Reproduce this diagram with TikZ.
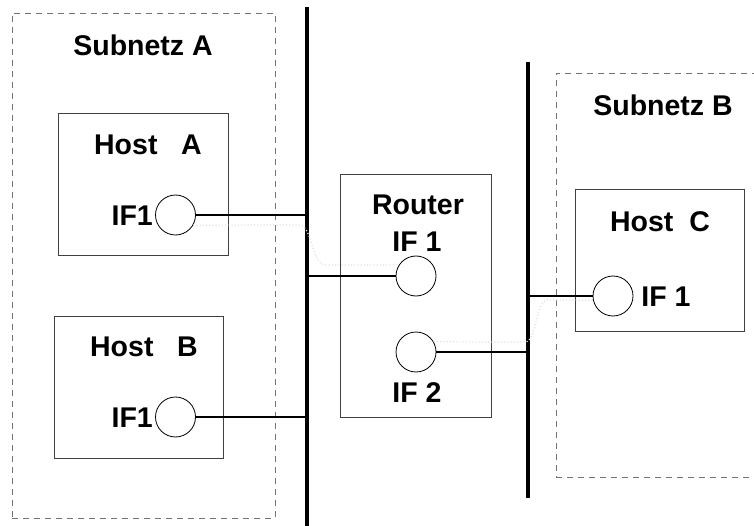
\documentclass[tikz,border=0pt]{standalone}
\usepackage{fontspec}
\setmainfont{Liberation Sans}
\begin{document}
\begin{tikzpicture}[x=1pt,y=-1pt,
  lbl/.style={font=\fontsize{28.5}{32}\selectfont\bfseries, inner sep=0pt},
  hostbox/.style={draw=black!75, line width=0.9pt, inner sep=0pt},
  subnet/.style={draw=black!55, line width=0.9pt, dash pattern=on 6pt off 5pt, inner sep=0pt},
  ifc/.style={circle, draw, line width=0.8pt, minimum size=40pt, inner sep=0pt},
  bus/.style={line width=3.2pt},
  conn/.style={line width=2.7pt},
  trace/.style={draw=black!12, line width=1.2pt, dotted}]
\useasboundingbox (0,0) rectangle (754,526);
\clip (0,0) rectangle (754,526);
% subnets
\node[subnet, minimum width=263pt, minimum height=505pt] (sa) at (143.5,265.5) {};
\node[subnet, minimum width=240pt, minimum height=404pt, anchor=north west] (sb) at (556,73) {};
\node[lbl] (sal) at (143,45) {Subnetz A};
\node[lbl] (sbl) at (663,105) {Subnetz B};
% buses
\coordinate (b1t) at (307,7);
\coordinate (b1b) at (307,530);
\coordinate (b2t) at (528,62);
\coordinate (b2b) at (528,498);
\draw[bus] (b1t) -- (b1b);
\draw[bus] (b2t) -- (b2b);
% hosts
\node[hostbox, minimum width=170pt, minimum height=142pt] (hab) at (143,184) {};
\node[lbl] (hal) at (148,145) {Host\ \ \ A};
\node[ifc] (ha) at (175.5,215) {};
\node[lbl, anchor=east] (hai) at (153,216) {IF1};
\node[hostbox, minimum width=169pt, minimum height=142pt] (hbb) at (138.5,387) {};
\node[lbl] (hbl) at (144,347) {Host\ \ \ B};
\node[ifc] (hb) at (175.5,417) {};
\node[lbl, anchor=east] (hbi) at (153,418) {IF1};
% router
\node[hostbox, minimum width=151pt, minimum height=243pt] (rtb) at (415.5,295.5) {};
\node[lbl] (rtl) at (418,205) {Router};
\node[lbl] (ri1) at (417,242) {IF 1};
\node[ifc] (ra) at (416,276) {};
\node[ifc] (rb) at (416,352) {};
\node[lbl] (ri2) at (417,393) {IF 2};
% host C
\node[hostbox, minimum width=169pt, minimum height=142pt] (hcb) at (659.5,260) {};
\node[lbl] (hcl) at (660,222) {Host\ \ C};
\node[ifc] (hc) at (613,296) {};
\node[lbl] (hci) at (666,297) {IF 1};
% faint traces
\draw[trace] (ha.-30) -- (300,225) .. controls (312,226) and (312,265) .. (325,265) -- (ra.147);
\draw[trace] (rb.30) -- (525,342) .. controls (537,342) and (535,300) .. (548,300) -- (hc.192);
% connectors
\draw[conn] (ha.east) -- (ha.east -| b1t);
\draw[conn] (hb.east) -- (hb.east -| b1t);
\draw[conn] (ra.west) -- (ra.west -| b1t);
\draw[conn] (rb.east) -- (rb.east -| b2t);
\draw[conn] (hc.west) -- (hc.west -| b2t);
\end{tikzpicture}
\end{document}
